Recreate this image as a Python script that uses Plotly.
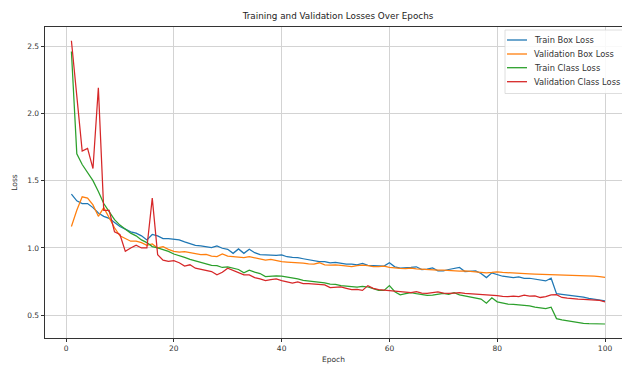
import plotly.graph_objects as go

epochs = list(range(1, 101))

train_box_loss = [
    1.40, 1.35, 1.33, 1.33, 1.30, 1.26, 1.235, 1.22, 1.19, 1.16,
    1.14, 1.12, 1.11, 1.09, 1.06, 1.10, 1.09, 1.07, 1.07, 1.063,
    1.06, 1.045, 1.03, 1.02, 1.015, 1.01, 1.002, 1.015, 0.998, 0.99,
    0.96, 0.993, 0.96, 0.99, 0.965, 0.95, 0.948, 0.943, 0.945, 0.948,
    0.935, 0.93, 0.928, 0.92, 0.911, 0.905, 0.898, 0.898, 0.89, 0.893,
    0.886, 0.88, 0.88, 0.875, 0.885, 0.87, 0.868, 0.866, 0.865, 0.89,
    0.86, 0.85, 0.85, 0.855, 0.86, 0.84, 0.842, 0.852, 0.83, 0.83,
    0.84, 0.845, 0.855, 0.825, 0.83, 0.83, 0.81, 0.78, 0.815, 0.80,
    0.79, 0.785, 0.78, 0.785, 0.775, 0.775, 0.77, 0.765, 0.755, 0.775,
    0.66, 0.655, 0.65, 0.648, 0.64, 0.635, 0.625, 0.62, 0.615, 0.607,
]

val_box_loss = [
    1.16, 1.28, 1.38, 1.37, 1.32, 1.235, 1.30, 1.22, 1.15, 1.09,
    1.07, 1.05, 1.05, 1.04, 1.02, 1.03, 1.00, 1.01, 0.99, 0.975,
    0.97, 0.972, 0.965, 0.955, 0.95, 0.952, 0.94, 0.936, 0.955, 0.94,
    0.936, 0.93, 0.928, 0.935, 0.925, 0.915, 0.91, 0.915, 0.905, 0.898,
    0.895, 0.893, 0.893, 0.888, 0.882, 0.88, 0.89, 0.875, 0.872, 0.874,
    0.87, 0.866, 0.862, 0.868, 0.873, 0.868, 0.862, 0.862, 0.865, 0.855,
    0.85, 0.848, 0.846, 0.85, 0.845, 0.842, 0.838, 0.838, 0.835, 0.836,
    0.832, 0.83, 0.828, 0.83, 0.826, 0.824, 0.82, 0.815, 0.818, 0.822,
    0.818, 0.815, 0.813, 0.812, 0.81, 0.808, 0.806, 0.805, 0.804, 0.803,
    0.802, 0.80, 0.798, 0.797, 0.795, 0.793, 0.792, 0.79, 0.787, 0.782,
]

train_class_loss = [
    2.46, 1.70, 1.62, 1.56, 1.50, 1.42, 1.33, 1.27, 1.21, 1.17,
    1.14, 1.11, 1.09, 1.06, 1.04, 1.01, 1.00, 0.99, 0.975, 0.955,
    0.945, 0.93, 0.915, 0.905, 0.89, 0.88, 0.87, 0.868, 0.855, 0.86,
    0.85, 0.84, 0.815, 0.835, 0.82, 0.81, 0.787, 0.79, 0.792, 0.79,
    0.785, 0.775, 0.77, 0.76, 0.755, 0.755, 0.748, 0.74, 0.732, 0.73,
    0.72, 0.718, 0.712, 0.71, 0.715, 0.71, 0.698, 0.685, 0.685, 0.72,
    0.675, 0.652, 0.66, 0.668, 0.66, 0.652, 0.648, 0.65, 0.655, 0.662,
    0.656, 0.668, 0.652, 0.645, 0.636, 0.628, 0.62, 0.59, 0.63, 0.60,
    0.59, 0.582, 0.58, 0.578, 0.576, 0.57, 0.56, 0.556, 0.549, 0.56,
    0.475, 0.465, 0.458, 0.452, 0.447, 0.44, 0.437, 0.437, 0.437, 0.435,
]

val_class_loss = [
    2.54, 2.15, 1.72, 1.74, 1.59, 2.19, 1.28, 1.28, 1.12, 1.10,
    0.975, 1.00, 1.02, 1.00, 1.00, 1.37, 0.95, 0.91, 0.90, 0.905,
    0.89, 0.865, 0.875, 0.85, 0.84, 0.835, 0.825, 0.80, 0.82, 0.85,
    0.835, 0.82, 0.80, 0.80, 0.78, 0.77, 0.758, 0.765, 0.77, 0.758,
    0.75, 0.738, 0.748, 0.735, 0.735, 0.73, 0.725, 0.725, 0.705, 0.71,
    0.71, 0.70, 0.69, 0.692, 0.685, 0.72, 0.70, 0.69, 0.685, 0.683,
    0.68, 0.676, 0.672, 0.668, 0.675, 0.665, 0.662, 0.67, 0.674, 0.665,
    0.662, 0.665, 0.668, 0.662, 0.66, 0.656, 0.656, 0.652, 0.65, 0.646,
    0.64, 0.638, 0.642, 0.638, 0.65, 0.642, 0.644, 0.632, 0.638, 0.652,
    0.653, 0.632, 0.627, 0.622, 0.62, 0.618, 0.615, 0.612, 0.61, 0.60,
]

series_names = ["Train Box Loss", "Validation Box Loss", "Train Class Loss", "Validation Class Loss"]
series_values = [train_box_loss, val_box_loss, train_class_loss, val_class_loss]
series_colors = ["#1f77b4", "#ff7f0e", "#2ca02c", "#d62728"]

x_ticks = [0, 20, 40, 60, 80, 100]
y_ticks = [0.5, 1.0, 1.5, 2.0, 2.5]
y_tick_labels = ["0.5", "1.0", "1.5", "2.0", "2.5"]

FONT = "DejaVu Sans"
W, H = 622, 370
ML, MR, MT, MB = 45, 0, 27, 32
PW, PH = W - ML - MR, H - MT - MB

fig = go.Figure()
for name, vals, col in zip(series_names, series_values, series_colors):
    fig.add_trace(go.Scatter(x=epochs, y=vals, mode="lines", name=name,
                             line=dict(color=col, width=1.25), showlegend=False))

# matplotlib-style legend (box partly outside the visible frame, as in the reference)
def px_x(p):
    return (p - ML) / PW

def px_y(p):
    return (H - MB - p) / PH

shapes = [dict(type="rect", xref="paper", yref="paper",
               x0=px_x(505), x1=px_x(650), y0=px_y(93.5), y1=px_y(30),
               line=dict(color="#d6d6d6", width=0.8), fillcolor="rgba(255,255,255,0.85)",
               layer="above")]
annotations = []
rows = [40, 54, 67.7, 81.7]
for name, col, ry in zip(series_names, series_colors, rows):
    shapes.append(dict(type="line", xref="paper", yref="paper",
                       x0=px_x(507), x1=px_x(527), y0=px_y(ry), y1=px_y(ry),
                       line=dict(color=col, width=1.3), layer="above"))
    annotations.append(dict(text=name, xref="paper", yref="paper", x=px_x(532), y=px_y(ry),
                            xanchor="left", yanchor="middle", showarrow=False,
                            font=dict(family=FONT, size=8.3, color="#333")))

fig.update_layout(
    width=W, height=H,
    margin=dict(l=ML, r=MR, t=MT, b=MB, pad=0),
    paper_bgcolor="white", plot_bgcolor="white",
    font=dict(family=FONT, size=7.5, color="#333"),
    title=dict(text="Training and Validation Losses Over Epochs", x=px_x(338), xref="paper",
               xanchor="center", y=1 - 16 / H, yref="container", yanchor="middle",
               font=dict(family=FONT, size=8.8, color="#222")),
    shapes=shapes, annotations=annotations,
    showlegend=False,
)
fig.update_xaxes(range=[-3.9, 103.15], tickvals=x_ticks, showgrid=True, gridcolor="#d3d3d3",
                 gridwidth=0.8, zeroline=False, showline=True, linecolor="#333", linewidth=0.8,
                 mirror=True, ticks="outside", ticklen=3.5, tickwidth=0.8, tickcolor="#333",
                 tickfont=dict(family=FONT, size=7.5, color="#333"),
                 title=dict(text="Epoch", standoff=4, font=dict(family=FONT, size=7.5, color="#333")))
fig.update_yaxes(range=[0.331, 2.642], tickvals=y_ticks, ticktext=y_tick_labels, showgrid=True,
                 gridcolor="#d3d3d3", gridwidth=0.8, zeroline=False, showline=True, linecolor="#333",
                 linewidth=0.8, mirror=False, ticks="outside", ticklen=3.5, tickwidth=0.8,
                 tickcolor="#333", tickfont=dict(family=FONT, size=7.5, color="#333"),
                 title=dict(text="Loss", standoff=8, font=dict(family=FONT, size=7.5, color="#333")))

fig.write_html("out.html")
